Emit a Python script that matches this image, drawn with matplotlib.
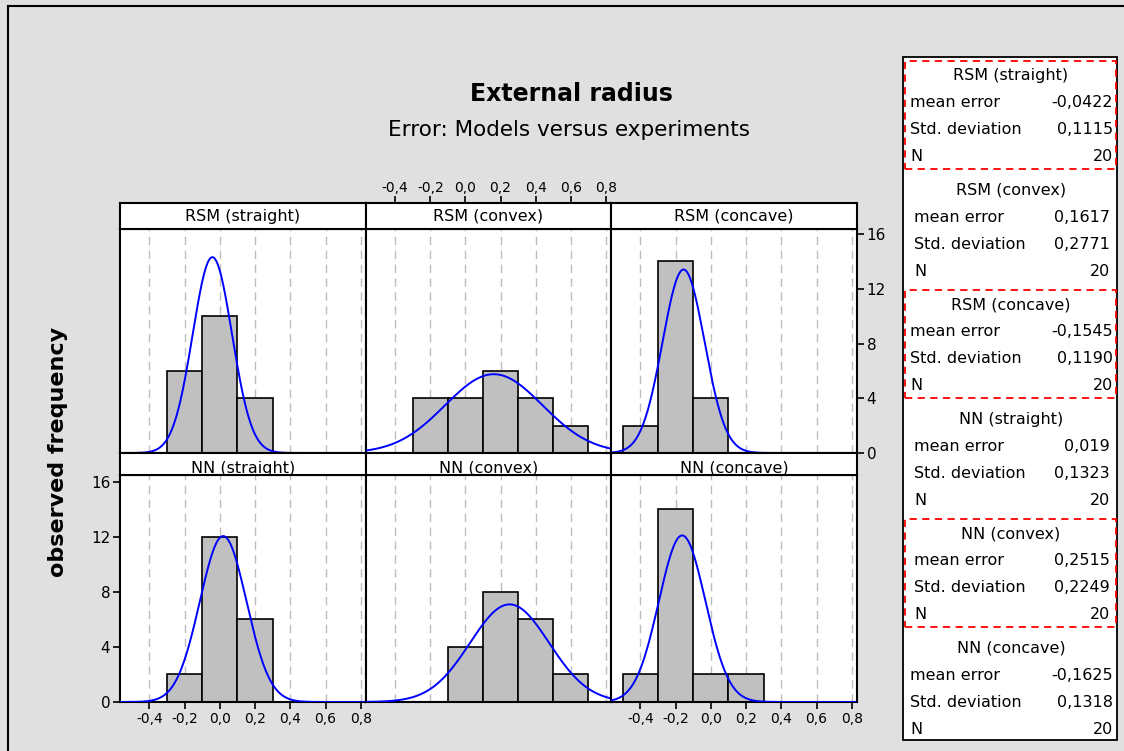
#!/usr/bin/env python3
"""Histograms of model errors (external radius) with fitted normal curves."""

import matplotlib

matplotlib.use("Agg")
import matplotlib.pyplot as plt
from matplotlib.lines import Line2D
from matplotlib.patches import Rectangle
from matplotlib.ticker import FuncFormatter
import numpy as np

W, H = 1124, 751

# ---- data -------------------------------------------------------------
BIN_EDGES = [-0.5, -0.3, -0.1, 0.1, 0.3, 0.5, 0.7]
PANEL_NAMES = [
    "RSM (straight)", "RSM (convex)", "RSM (concave)",
    "NN (straight)", "NN (convex)", "NN (concave)",
]
COUNTS_RSM_STRAIGHT = [0, 6, 10, 4, 0, 0]
COUNTS_RSM_CONVEX = [0, 4, 4, 6, 4, 2]
COUNTS_RSM_CONCAVE = [2, 14, 4, 0, 0, 0]
COUNTS_NN_STRAIGHT = [0, 2, 12, 6, 0, 0]
COUNTS_NN_CONVEX = [0, 0, 4, 8, 6, 2]
COUNTS_NN_CONCAVE = [2, 14, 2, 2, 0, 0]
COUNTS = [
    COUNTS_RSM_STRAIGHT, COUNTS_RSM_CONVEX, COUNTS_RSM_CONCAVE,
    COUNTS_NN_STRAIGHT, COUNTS_NN_CONVEX, COUNTS_NN_CONCAVE,
]
MEAN_ERROR = ["-0,0422", "0,1617", "-0,1545", "0,019", "0,2515", "-0,1625"]
STD_DEV = ["0,1115", "0,2771", "0,1190", "0,1323", "0,2249", "0,1318"]
N_OBS = [20, 20, 20, 20, 20, 20]
HIGHLIGHTED = [0, 2, 4]
X_TICKS = [-0.4, -0.2, 0.0, 0.2, 0.4, 0.6, 0.8]
Y_TICKS = [0, 4, 8, 12, 16]

# ---- layout (pixels) --------------------------------------------------
XLIM = (-0.566, 0.829)
COL_X = [120, 366, 611, 857]
ROWS = [  # strip top, strip bottom / plot top, plot bottom
    (203, 229, 453),
    (453, 475, 702),
]
YLIMS = [(0, 16.37), (0, 16.5)]
BAR_FACE = "#c0c0c0"
CURVE = "#0000ff"
GRID = "#bdbdbd"
BG = "#e0e0e0"


def _rect(x0, y0, x1, y1):
    return [x0 / W, 1 - y1 / H, (x1 - x0) / W, (y1 - y0) / H]


def _num(s):
    return float(s.replace(",", "."))


comma_fmt = FuncFormatter(lambda v, _: f"{v:.1f}".replace(".", ","))

fig = plt.figure(figsize=(W / 100, H / 100), dpi=100, facecolor=BG)
# outer frame: only its left and top edges fall inside the picture
fig.lines.append(Line2D([8 / W, 8 / W], [0, 1 - 6 / H], transform=fig.transFigure,
                        color="black", lw=1.5))
fig.lines.append(Line2D([8 / W, 1], [1 - 6 / H, 1 - 6 / H], transform=fig.transFigure,
                        color="black", lw=1.5))

fig.text(571 / W, 1 - 94 / H, "External radius", fontsize=17, fontweight="bold",
         ha="center", va="center")
fig.text(569 / W, 1 - 130 / H, "Error: Models versus experiments", fontsize=15.5,
         ha="center", va="center")
fig.text(58 / W, 1 - 452 / H, "observed frequency", fontsize=16, fontweight="bold",
         rotation=90, ha="center", va="center")

xx = np.linspace(XLIM[0], XLIM[1], 400)
bw = BIN_EDGES[1] - BIN_EDGES[0]

for i, name in enumerate(PANEL_NAMES):
    r, c = divmod(i, 3)
    s_top, p_top, p_bot = ROWS[r]

    ax = fig.add_axes(_rect(COL_X[c], p_top, COL_X[c + 1], p_bot))
    for g in X_TICKS:
        ax.axvline(g, color=GRID, lw=1.0, ls=(0, (6, 4)), zorder=1)
    ax.bar(BIN_EDGES[:-1], COUNTS[i], width=bw, align="edge", color=BAR_FACE,
           edgecolor="black", lw=1.2, zorder=2)
    mu, sd = _num(MEAN_ERROR[i]), _num(STD_DEV[i])
    yy = N_OBS[i] * bw / (sd * np.sqrt(2 * np.pi)) * np.exp(-0.5 * ((xx - mu) / sd) ** 2)
    ax.plot(xx, yy, color=CURVE, lw=1.4, zorder=3)
    ax.set_xlim(XLIM)
    ax.set_ylim(YLIMS[r])
    for sp in ax.spines.values():
        sp.set_linewidth(1.5)
    ax.tick_params(direction="out", length=5, width=1.2, pad=2)
    ax.tick_params(axis="x", labelsize=10)
    ax.tick_params(axis="y", labelsize=11)
    ax.xaxis.set_major_formatter(comma_fmt)

    if r == 1 and c != 1:
        ax.set_xticks(X_TICKS)
    else:
        ax.set_xticks([])
    if r == 0 and c == 2:
        ax.yaxis.tick_right()
        ax.set_yticks(Y_TICKS)
    elif r == 1 and c == 0:
        ax.set_yticks(Y_TICKS)
    else:
        ax.set_yticks([])

    sax = fig.add_axes(_rect(COL_X[c], s_top, COL_X[c + 1], p_top))
    sax.set_facecolor("white")
    sax.set_xlim(XLIM)
    sax.set_ylim(0, 1)
    sax.set_yticks([])
    for sp in sax.spines.values():
        sp.set_linewidth(1.5)
    if r == 0 and c == 1:
        sax.xaxis.tick_top()
        sax.set_xticks(X_TICKS)
        sax.xaxis.set_major_formatter(comma_fmt)
        sax.tick_params(direction="out", length=5, width=1.2, labelsize=10, pad=1)
    else:
        sax.set_xticks([])
    ty = 0.5 if r == 0 else 0.3
    sax.text(0.5, ty, name, transform=sax.transAxes, ha="center", va="center",
             fontsize=11.5, zorder=1)

# ---- statistics box ---------------------------------------------------
fig.patches.append(
    Rectangle((903 / W, 1 - 740 / H), 214 / W, 683 / H, transform=fig.transFigure,
              fc="white", ec="black", lw=1.3)
)
wide = [True, False, True, False, False, True]
for i, name in enumerate(PANEL_NAMES):
    ty = 75.7 + i * 114.5
    lx, rx = (910, 1113) if wide[i] else (914, 1110)
    fig.text(1011 / W, 1 - ty / H, name, fontsize=11.5, ha="center", va="center")
    rows = [("mean error", MEAN_ERROR[i]), ("Std. deviation", STD_DEV[i]), ("N", str(N_OBS[i]))]
    for k, (lab, val) in enumerate(rows):
        yk = ty + 27 * (k + 1)
        fig.text(lx / W, 1 - yk / H, lab, fontsize=11.5, ha="left", va="center")
        fig.text(rx / W, 1 - yk / H, val, fontsize=11.5, ha="right", va="center")
    if i in HIGHLIGHTED:
        fig.patches.append(
            Rectangle((905 / W, 1 - (ty + 93) / H), 211 / W, 108 / H,
                      transform=fig.transFigure, fill=False, ec="#ff0000",
                      lw=1.3, ls=(0, (4, 3)))
        )

fig.savefig("out.png", dpi=100, facecolor=BG)
